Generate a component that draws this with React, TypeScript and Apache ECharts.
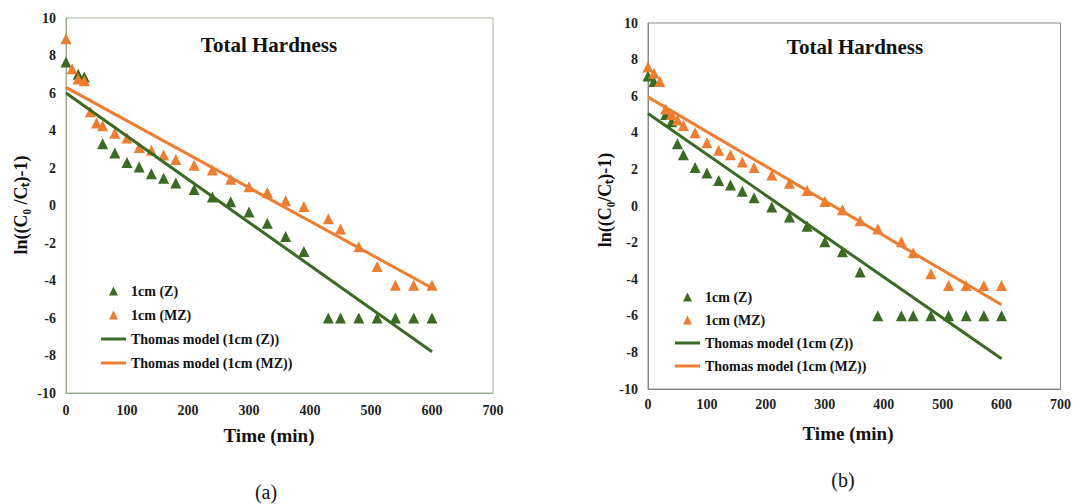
import React, { useEffect, useRef } from "react";
import * as echarts from "echarts";

// ---------- data (a) ----------
const timeZa = [0, 20, 30, 60, 80, 100, 120, 140, 160, 180, 210, 240, 270, 300, 330, 360, 390, 430, 450, 480, 510, 540, 570, 600];
const valZa = [7.65, 7.0, 6.85, 3.3, 2.8, 2.3, 2.05, 1.7, 1.45, 1.2, 0.85, 0.45, 0.2, -0.35, -0.95, -1.65, -2.45, -6, -6, -6, -6, -6, -6, -6];
const timeMZa = [0, 10, 20, 30, 40, 50, 60, 80, 100, 120, 140, 160, 180, 210, 240, 270, 300, 330, 360, 390, 430, 450, 480, 510, 540, 570, 600];
const valMZa = [8.9, 7.3, 6.75, 6.65, 5.0, 4.4, 4.25, 3.85, 3.6, 3.1, 2.95, 2.7, 2.45, 2.15, 1.9, 1.4, 1.0, 0.7, 0.25, -0.05, -0.7, -1.25, -2.2, -3.25, -4.25, -4.25, -4.25];
const modelTime = [0, 600];
const modelZa = [6.0, -7.8];
const modelMZa = [6.3, -4.4];

// ---------- data (b) ----------
const timeZb = [0, 10, 30, 40, 50, 60, 80, 100, 120, 140, 160, 180, 210, 240, 270, 300, 330, 360, 390, 430, 450, 480, 510, 540, 570, 600];
const valZb = [7.1, 6.8, 5.0, 4.6, 3.4, 2.8, 2.1, 1.8, 1.4, 1.15, 0.8, 0.45, -0.05, -0.6, -1.1, -1.95, -2.5, -3.6, -6, -6, -6, -6, -6, -6, -6, -6];
const timeMZb = [0, 10, 20, 30, 40, 50, 60, 80, 100, 120, 140, 160, 180, 210, 240, 270, 300, 330, 360, 390, 430, 450, 480, 510, 540, 570, 600];
const valMZb = [7.6, 7.25, 6.8, 5.3, 5.0, 4.7, 4.4, 4.0, 3.45, 3.05, 2.8, 2.4, 2.1, 1.7, 1.25, 0.85, 0.25, -0.2, -0.8, -1.25, -1.95, -2.55, -3.7, -4.35, -4.35, -4.35, -4.35];
const modelZb = [5.05, -8.35];
const modelMZb = [5.95, -5.4];

const seriesNames = ["1cm (Z)", "1cm (MZ)", "Thomas model (1cm (Z))", "Thomas model (1cm (MZ))"];
const xTicks = { min: 0, max: 700, interval: 100 };
const yTicks = { min: -10, max: 10, interval: 2 };

const GREEN = "#3b6a25";
const ORANGE = "#ed7d31";
const FONT = "Liberation Serif";

const TRI_ICON = "path://M5,0L10,10L0,10Z";
const LINE_ICON = "path://M0,0H25V3H0Z";

const pairs = (xs: number[], ys: number[]) => xs.map((x, i) => [x, ys[i]]);

function buildAxes(idx: number, color: string, xMargin: number) {
  const label = { fontFamily: FONT, fontWeight: "bold" as const, fontSize: 14, color: "#222" };
  return {
    x: {
      type: "value" as const,
      gridIndex: idx,
      ...xTicks,
      axisLine: { show: true, onZero: false, lineStyle: { color, width: 1 } },
      axisTick: { show: false },
      splitLine: { show: false },
      axisLabel: { ...label, margin: xMargin },
    },
    y: {
      type: "value" as const,
      gridIndex: idx,
      ...yTicks,
      axisLine: { show: true, onZero: false, lineStyle: { color, width: 1 } },
      axisTick: { show: false },
      splitLine: { show: false },
      axisLabel: { ...label, margin: 10 },
    },
  };
}

function buildSeries(idx: number, z: number[][], mz: number[][], mZ: number[][], mMZ: number[][]) {
  return [
    { name: seriesNames[0], type: "scatter", xAxisIndex: idx, yAxisIndex: idx, data: z, symbol: "triangle", symbolSize: 11, itemStyle: { color: GREEN, opacity: 1 } },
    { name: seriesNames[1], type: "scatter", xAxisIndex: idx, yAxisIndex: idx, data: mz, symbol: "triangle", symbolSize: 11, itemStyle: { color: ORANGE, opacity: 1 } },
    { name: seriesNames[2], type: "line", xAxisIndex: idx, yAxisIndex: idx, data: mZ, symbol: "none", lineStyle: { color: GREEN, width: 3 }, itemStyle: { color: GREEN } },
    { name: seriesNames[3], type: "line", xAxisIndex: idx, yAxisIndex: idx, data: mMZ, symbol: "none", lineStyle: { color: ORANGE, width: 3 }, itemStyle: { color: ORANGE } },
  ];
}

function txt(text: string, x: number, y: number, size: number, bold: boolean, rotation = 0) {
  return {
    type: "text",
    x,
    y,
    rotation,
    style: {
      text,
      fontFamily: FONT,
      fontSize: size,
      fontWeight: bold ? "bold" : "normal",
      fill: "#111",
      align: "center",
      verticalAlign: "middle",
    },
  };
}

export default function App() {
  const ref = useRef<HTMLDivElement>(null);

  useEffect(() => {
    if (!ref.current) return;
    const chart = echarts.init(ref.current, undefined, { renderer: "svg" });
    const axA = buildAxes(0, "#97a98b", 10);
    const axB = buildAxes(1, "#8a8a8a", 8);
    const legendData = [
      { name: seriesNames[0], icon: TRI_ICON },
      { name: seriesNames[1], icon: TRI_ICON },
      { name: seriesNames[2], icon: LINE_ICON },
      { name: seriesNames[3], icon: LINE_ICON },
    ];
    const legendBase = {
      orient: "vertical" as const,
      padding: 0,
      itemWidth: 25,
      itemHeight: 9,
      itemGap: 10,
      symbolKeepAspect: true,
      textStyle: { fontFamily: FONT, fontWeight: "bold" as const, fontSize: 14, color: "#111" },
      data: legendData,
      selectedMode: false,
    };
    chart.setOption({
      animation: false,
      backgroundColor: "#ffffff",
      grid: [
        { left: 66, top: 18, width: 427, height: 375, show: true, borderColor: "#a3b398", borderWidth: 1, backgroundColor: "transparent" },
        { left: 648, top: 23, width: 414, height: 366, show: true, borderColor: "#8a8a8a", borderWidth: 1, backgroundColor: "transparent" },
      ],
      xAxis: [axA.x, axB.x],
      yAxis: [axA.y, axB.y],
      legend: [
        { ...legendBase, left: 101, top: 284 },
        { ...legendBase, left: 675, top: 290, itemGap: 9 },
      ],
      series: [
        ...buildSeries(0, pairs(timeZa, valZa), pairs(timeMZa, valMZa), pairs(modelTime, modelZa), pairs(modelTime, modelMZa)),
        ...buildSeries(1, pairs(timeZb, valZb), pairs(timeMZb, valMZb), pairs(modelTime, modelZb), pairs(modelTime, modelMZb)),
      ],
      graphic: [
        txt("Total Hardness", 269, 45, 21, true),
        txt("Total Hardness", 855, 47, 21, true),
        txt("Time (min)", 269, 435, 19, true),
        txt("Time (min)", 848, 433, 19, true),
        txt("ln((C\u2080 /C\u209C)-1)", 21, 205, 18, true, Math.PI / 2),
        txt("ln((C\u2080/C\u209C)-1)", 605, 200, 18, true, Math.PI / 2),
        txt("(a)", 266, 492, 20, false),
        txt("(b)", 843, 480, 20, false),
      ],
    });
    return () => chart.dispose();
  }, []);

  return (
    <div
      ref={ref}
      style={{ position: "fixed", left: 0, top: 0, width: 1074, height: 504, background: "#fff" }}
    />
  );
}
